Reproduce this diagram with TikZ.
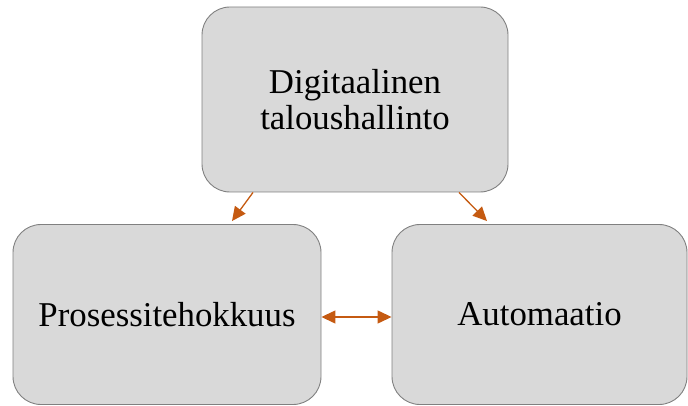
\documentclass[tikz,border=0pt]{standalone}
\usepackage{fontspec}
\setmainfont{Liberation Serif}
\usetikzlibrary{arrows.meta}
\definecolor{boxfill}{HTML}{D9D9D9}
\definecolor{boxline}{HTML}{808080}
\definecolor{arr}{HTML}{C55A11}
\tikzset{
  box/.style={draw=boxline, line width=0.9pt, fill=boxfill, rounded corners=28pt,
    align=center, font=\fontsize{34.8}{36}\selectfont, inner sep=0pt},
  tip/.style={Triangle[length=14pt,width=13pt]},
  conn/.style={draw=arr, line width=1.3pt, -{Triangle[length=14pt,width=13pt]}},
  dconn/.style={draw=arr, line width=1.3pt, {Triangle[length=14pt,width=13pt]}-{Triangle[length=14pt,width=13pt]}}
}
\begin{document}
\begin{tikzpicture}[x=1pt,y=-1pt]
\useasboundingbox (0,0) rectangle (688,406);
\node[box, minimum width=306pt, minimum height=185pt] (top) at (355,99.5) {Digitaalinen\\taloushallinto};
\node[box, minimum width=308pt, minimum height=180pt] (left) at (167,314.5) {Prosessitehokkuus};
\node[box, minimum width=295pt, minimum height=180pt] (right) at (539.5,314.5) {Automaatio};
\draw[conn] ([xshift=-102pt]top.south) -- ([xshift=65pt,yshift=3pt]left.north);
\draw[conn] ([xshift=104pt]top.south) -- ([xshift=-52.5pt,yshift=3pt]right.north);
\draw[dconn] ([yshift=-2.5pt]left.east) -- ([yshift=-2.5pt]right.west);
\end{tikzpicture}
\end{document}
